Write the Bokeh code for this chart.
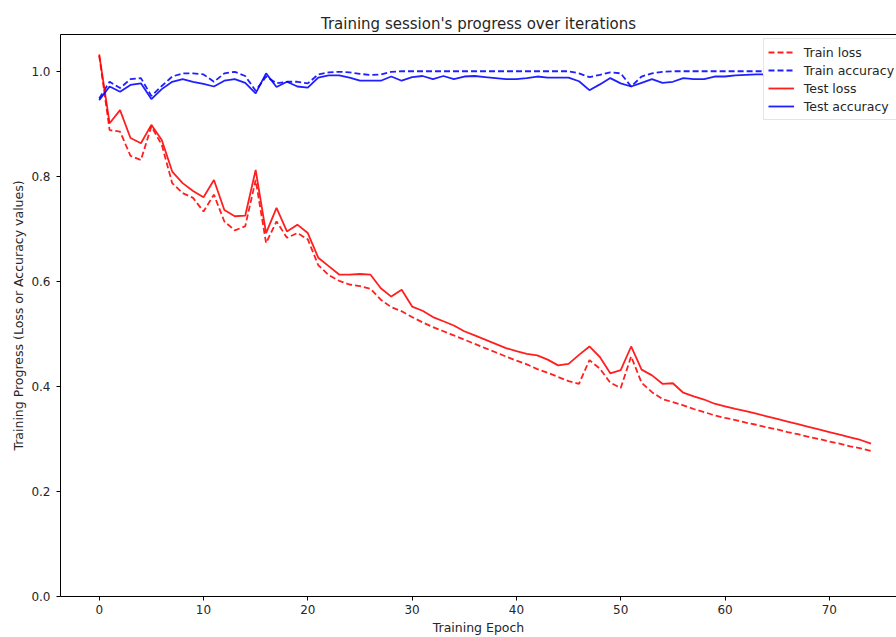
from bokeh.plotting import figure
from bokeh.models import (Range1d, FixedTicker, PrintfTickFormatter, Legend,
                          LegendItem, LinearAxis)
from bokeh.embed import file_html
from bokeh.resources import INLINE

# ---------------- data ----------------
epochs = list(range(75))

train_loss = [1.030, 0.888, 0.885, 0.839, 0.831, 0.895, 0.860, 0.787, 0.768, 0.759,
              0.733, 0.765, 0.714, 0.697, 0.705, 0.793, 0.673, 0.714, 0.683, 0.692,
              0.680, 0.631, 0.612, 0.601, 0.594, 0.591, 0.586, 0.565, 0.551, 0.543,
              0.532, 0.522, 0.513, 0.505, 0.497, 0.489, 0.481, 0.473, 0.465, 0.457,
              0.449, 0.442, 0.433, 0.426, 0.418, 0.410, 0.405, 0.450, 0.434, 0.407,
              0.397, 0.457, 0.407, 0.389, 0.376, 0.370, 0.364, 0.357, 0.351, 0.345,
              0.340, 0.336, 0.331, 0.327, 0.322, 0.318, 0.313, 0.309, 0.304, 0.300,
              0.295, 0.291, 0.286, 0.282, 0.277]

train_acc = [0.948, 0.980, 0.968, 0.985, 0.987, 0.953, 0.972, 0.990, 0.996, 0.996,
             0.994, 0.980, 0.996, 0.999, 0.991, 0.963, 0.990, 0.977, 0.980, 0.980,
             0.977, 0.994, 0.998, 0.999, 0.998, 0.995, 0.993, 0.994, 0.999, 1.000,
             1.000, 1.000, 1.000, 1.000, 1.000, 1.000, 1.000, 1.000, 1.000, 1.000,
             1.000, 1.000, 1.000, 1.000, 1.000, 1.000, 0.996, 0.989, 0.993, 0.998,
             0.996, 0.971, 0.990, 0.996, 0.999, 1.000, 1.000, 1.000, 1.000, 1.000,
             1.000, 1.000, 1.000, 1.000, 1.000, 1.000, 1.000, 1.000, 1.000, 1.000,
             1.000, 1.000, 1.000, 1.000, 1.000]

test_loss = [1.032, 0.901, 0.926, 0.873, 0.863, 0.898, 0.869, 0.809, 0.787, 0.772,
             0.760, 0.793, 0.736, 0.724, 0.725, 0.812, 0.692, 0.740, 0.695, 0.708,
             0.692, 0.645, 0.629, 0.613, 0.613, 0.614, 0.613, 0.587, 0.571, 0.584,
             0.552, 0.544, 0.532, 0.524, 0.516, 0.505, 0.497, 0.489, 0.481, 0.473,
             0.467, 0.462, 0.459, 0.451, 0.440, 0.443, 0.460, 0.476, 0.456, 0.425,
             0.431, 0.476, 0.432, 0.421, 0.405, 0.406, 0.388, 0.381, 0.375, 0.367,
             0.362, 0.357, 0.353, 0.348, 0.343, 0.338, 0.333, 0.328, 0.323, 0.318,
             0.313, 0.308, 0.303, 0.298, 0.291]

test_acc = [0.945, 0.971, 0.961, 0.974, 0.977, 0.947, 0.966, 0.980, 0.985, 0.980,
            0.976, 0.971, 0.982, 0.985, 0.978, 0.958, 0.996, 0.970, 0.980, 0.971,
            0.969, 0.988, 0.992, 0.992, 0.988, 0.982, 0.982, 0.982, 0.990, 0.982,
            0.989, 0.991, 0.985, 0.991, 0.985, 0.990, 0.991, 0.989, 0.987, 0.985,
            0.985, 0.987, 0.990, 0.988, 0.988, 0.988, 0.981, 0.964, 0.975, 0.987,
            0.977, 0.971, 0.978, 0.985, 0.978, 0.980, 0.987, 0.985, 0.985, 0.990,
            0.990, 0.992, 0.993, 0.994, 0.994, 0.995, 0.995, 0.996, 0.996, 0.996,
            0.997, 0.997, 0.997, 0.998, 0.998]

x_ticks = [0, 10, 20, 30, 40, 50, 60, 70]
y_ticks = [0.0, 0.2, 0.4, 0.6, 0.8, 1.0]
series_labels = ["Train loss", "Train accuracy", "Test loss", "Test accuracy"]
title_text = "Training session's progress over iterations"
x_label = "Training Epoch"
y_label = "Training Progress (Loss or Accuracy values)"

FONT = "DejaVu Sans"
TXT = "#262626"

p = figure(width=896, height=637, output_backend="svg", toolbar_location=None,
           x_range=Range1d(-3.71, 76.44), y_range=Range1d(0, 1.07),
           min_border_left=60, min_border_right=0, min_border_top=34,
           min_border_bottom=40)

p.title.text = title_text
p.title.align = "center"
p.title.text_font = FONT
p.title.text_font_size = "15px"
p.title.text_font_style = "normal"
p.title.text_color = TXT
p.title.standoff = 4

p.xgrid.visible = False
p.ygrid.visible = False
p.outline_line_color = None
p.background_fill_color = "white"
p.border_fill_color = "white"

for ax in (p.xaxis[0], p.yaxis[0]):
    ax.axis_line_color = "black"
    ax.axis_line_width = 1
    ax.major_tick_line_color = "black"
    ax.major_tick_in = 0
    ax.major_tick_out = 4
    ax.minor_tick_line_color = None
    ax.major_label_text_font = FONT
    ax.major_label_text_font_size = "12px"
    ax.major_label_text_color = TXT
    ax.axis_label_text_font = FONT
    ax.axis_label_text_font_size = "12.5px"
    ax.axis_label_text_font_style = "normal"
    ax.axis_label_text_color = TXT

p.xaxis[0].ticker = FixedTicker(ticks=x_ticks)
p.xaxis[0].axis_label = x_label
p.xaxis[0].major_label_standoff = 4
p.xaxis[0].axis_label_standoff = 3

p.yaxis[0].ticker = FixedTicker(ticks=y_ticks)
p.yaxis[0].formatter = PrintfTickFormatter(format="%.1f")
p.yaxis[0].axis_label = y_label
p.yaxis[0].major_label_standoff = 6
p.yaxis[0].axis_label_standoff = 2

top = LinearAxis(ticker=FixedTicker(ticks=[]), major_tick_out=0, major_tick_in=0,
                 minor_tick_out=0, minor_tick_in=0, major_label_standoff=0,
                 major_label_text_font_size="0px", axis_line_color="black",
                 axis_line_width=1)
p.add_layout(top, "above")

r1 = p.line(epochs, train_loss, line_color="#ff0000", line_dash="6 3", line_width=1.8, line_alpha=0.88)
r2 = p.line(epochs, train_acc, line_color="#0000ff", line_dash="6 3", line_width=1.8, line_alpha=0.88)
r3 = p.line(epochs, test_loss, line_color="#ff0000", line_width=1.8, line_alpha=0.88)
r4 = p.line(epochs, test_acc, line_color="#0000ff", line_width=1.8, line_alpha=0.88)

legend = Legend(items=[LegendItem(label=series_labels[0], renderers=[r1]),
                       LegendItem(label=series_labels[1], renderers=[r2]),
                       LegendItem(label=series_labels[2], renderers=[r3]),
                       LegendItem(label=series_labels[3], renderers=[r4])],
                location=(702.7, 476), margin=0, padding=4, spacing=0,
                label_height=18, glyph_height=18, glyph_width=26, label_standoff=10,
                label_text_font=FONT, label_text_font_size="12.5px",
                label_text_color=TXT, border_line_color="#cccccc",
                border_line_width=1, background_fill_color="white",
                background_fill_alpha=1.0)
p.add_layout(legend)

open("out.html", "w").write(file_html(p, INLINE))
